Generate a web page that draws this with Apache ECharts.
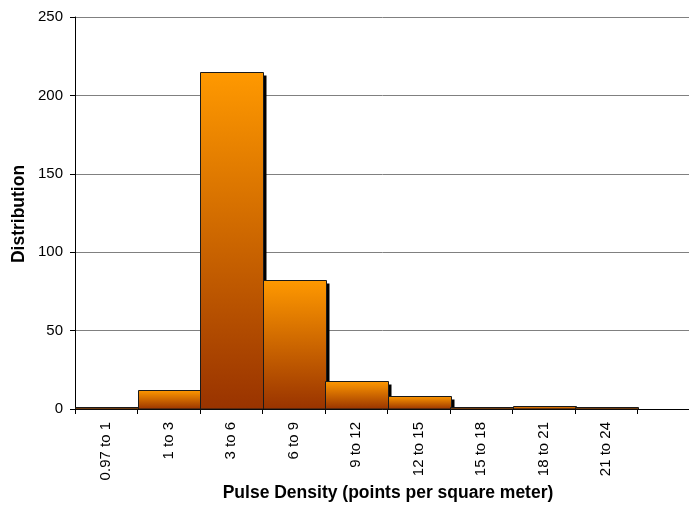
<!DOCTYPE html>
<html>
<head>
<meta charset="utf-8">
<script src="https://cdn.jsdelivr.net/npm/echarts@6/dist/echarts.min.js"></script>
<style>
html,body{margin:0;padding:0;background:#fff;}
#c{width:689px;height:506px;}
</style>
</head>
<body>
<div id="c"></div>
<script>
var categories = ['0.97 to 1','1 to 3','3 to 6','6 to 9','9 to 12','12 to 15','15 to 18','18 to 21','21 to 24',''];
var distribution = [1, 12, 215, 82, 18, 8, 1, 2, 1, null];
var yTicks = {min: 0, max: 250, interval: 50};
var xTitle = 'Pulse Density (points per square meter)';
var yTitle = 'Distribution';

var FONT = '"Liberation Sans", Arial, sans-serif';
var seriesData = distribution.map(function (v, i) { return [i, v]; });

var chart = echarts.init(document.getElementById('c'), null, {renderer: 'canvas'});
chart.setOption({
  animation: false,
  backgroundColor: '#fff',
  grid: {left: 75, top: 17, right: -11, bottom: 97, containLabel: false, outerBoundsMode: 'none'},
  xAxis: {
    type: 'category',
    data: categories,
    boundaryGap: true,
    axisLine: {show: true, lineStyle: {color: '#000', width: 1}},
    axisTick: {show: true, length: 5, alignWithLabel: false, interval: 0, lineStyle: {color: '#000'}},
    axisLabel: {rotate: 90, color: '#000', fontFamily: FONT, fontSize: 15, margin: 13, interval: 0},
    splitLine: {show: false}
  },
  yAxis: {
    type: 'value',
    min: yTicks.min, max: yTicks.max, interval: yTicks.interval,
    axisLine: {show: true, lineStyle: {color: '#000', width: 1}},
    axisTick: {show: true, length: 5, lineStyle: {color: '#000'}},
    axisLabel: {color: '#000', fontFamily: FONT, fontSize: 15, margin: 12},
    splitLine: {show: true, lineStyle: {color: '#808080', width: 1}}
  },
  graphic: [
    {type: 'text', x: 388, y: 493, style: {text: xTitle, font: 'bold 17.5px ' + FONT, fill: '#000', textAlign: 'center', textVerticalAlign: 'middle'}},
    {type: 'text', rotation: Math.PI / 2, x: 19, y: 214, style: {text: yTitle, font: 'bold 17.5px ' + FONT, fill: '#000', textAlign: 'center', textVerticalAlign: 'middle'}}
  ],
  series: [{
    type: 'custom',
    data: seriesData,
    encode: {x: 0, y: 1},
    clip: false,
    renderItem: function (params, api) {
      var v = api.value(1);
      if (v == null || isNaN(v)) return;
      var top = api.coord([api.value(0), v]);
      var base = api.coord([api.value(0), 0]);
      var w = api.size([1, 0])[0];
      var x = Math.round(base[0] - w / 2) + 0.5;
      var wr = Math.round(w);
      var yTop = Math.round(top[1]) + 0.5;
      var h = base[1] - yTop;
      var children = [];
      if (h > 3) {
        children.push({type: 'rect', shape: {x: x + 3, y: yTop + 3, width: wr, height: h - 3}, style: {fill: '#000'}});
      }
      children.push({
        type: 'rect',
        shape: {x: x, y: yTop, width: wr, height: h},
        style: {
          fill: new echarts.graphic.LinearGradient(0, 0, 0, 1, [
            {offset: 0, color: '#ff9900'},
            {offset: 1, color: '#993300'}
          ]),
          stroke: '#1a1a1a',
          lineWidth: 1
        }
      });
      return {type: 'group', children: children};
    }
  }]
});
</script>
</body>
</html>
